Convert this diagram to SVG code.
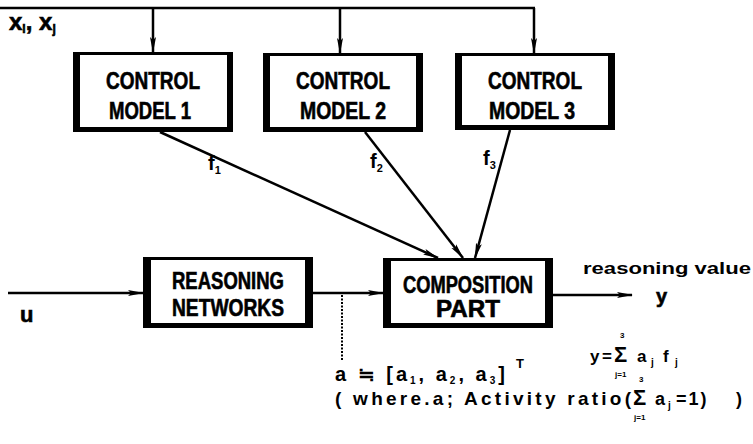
<svg xmlns="http://www.w3.org/2000/svg" width="753" height="444" viewBox="0 0 753 444">
<defs>
<marker id="ah" markerWidth="16" markerHeight="8" refX="15" refY="4" orient="auto" markerUnits="userSpaceOnUse">
<path d="M0,1 L16,4 L0,7 L3,4 Z" fill="#000"/>
</marker>
</defs>
<style>
.t{font-family:"Liberation Sans",Arial,sans-serif;font-weight:bold;fill:#000}
.h{stroke:#000;stroke-width:0.6}
.bl{font-size:23px;text-anchor:middle}
.ln{stroke:#000;stroke-width:2.5;fill:none}
.out{fill:#000}
.in{fill:#fff}
.s{font-size:8px}
</style>
<rect width="753" height="444" fill="#fff"/>
<g id="connectors">
<path class="ln" d="M0,8 H535"/>
<path class="ln" d="M153,8 V52" marker-end="url(#ah)"/>
<path class="ln" d="M340,8 V53" marker-end="url(#ah)"/>
<path class="ln" d="M534,8 V53" marker-end="url(#ah)"/>
<path class="ln" d="M160,132 L438,258" marker-end="url(#ah)"/>
<path class="ln" d="M365,132 L463,258" marker-end="url(#ah)"/>
<path class="ln" d="M510,130 L475,258" marker-end="url(#ah)"/>
<path class="ln" d="M8,293 H143" marker-end="url(#ah)"/>
<path class="ln" d="M312,293 H383" marker-end="url(#ah)"/>
<path class="ln" d="M553,295 H632" marker-end="url(#ah)"/>
<path d="M342,295 V360" stroke="#000" stroke-width="2" stroke-dasharray="2,1.5" fill="none"/>
</g>
<g id="control1">
<rect class="out" x="73" y="52" width="160" height="80"/>
<rect class="in" x="80" y="55" width="147" height="72"/>
<text class="t h bl" x="153" y="89" textLength="94" lengthAdjust="spacingAndGlyphs">CONTROL</text>
<text class="t h bl" x="150" y="119" textLength="82" lengthAdjust="spacingAndGlyphs">MODEL 1</text>
</g>
<g id="control2">
<rect class="out" x="263" y="53" width="160" height="79"/>
<rect class="in" x="270" y="56" width="146" height="71"/>
<text class="t h bl" x="343" y="89" textLength="94" lengthAdjust="spacingAndGlyphs">CONTROL</text>
<text class="t h bl" x="343" y="119" textLength="86" lengthAdjust="spacingAndGlyphs">MODEL 2</text>
</g>
<g id="control3">
<rect class="out" x="455" y="53" width="160" height="77"/>
<rect class="in" x="462" y="56" width="146" height="69"/>
<text class="t h bl" x="535" y="89" textLength="94" lengthAdjust="spacingAndGlyphs">CONTROL</text>
<text class="t h bl" x="532" y="119" textLength="86" lengthAdjust="spacingAndGlyphs">MODEL 3</text>
</g>
<g id="reasoning">
<rect class="out" x="143" y="257" width="170" height="71"/>
<rect class="in" x="151" y="260" width="154" height="63"/>
<text class="t h bl" x="228" y="289" textLength="112" lengthAdjust="spacingAndGlyphs">REASONING</text>
<text class="t h bl" x="228" y="316" textLength="112" lengthAdjust="spacingAndGlyphs">NETWORKS</text>
</g>
<g id="composition">
<rect class="out" x="383" y="258" width="170" height="70"/>
<rect class="in" x="391" y="261" width="154" height="62"/>
<text class="t h bl" x="468" y="293" textLength="130" lengthAdjust="spacingAndGlyphs">COMPOSITION</text>
<text class="t h bl" x="468" y="317" textLength="64" lengthAdjust="spacingAndGlyphs">PART</text>
</g>
<g id="labels">
<text class="t h" x="9" y="30" font-size="24">x<tspan font-size="12" dy="3">i</tspan><tspan dy="-3">, x</tspan><tspan font-size="12" dy="3">j</tspan></text>
<text class="t" x="208" y="170" font-size="20">f<tspan font-size="11" dy="4">1</tspan></text>
<text class="t" x="370" y="168" font-size="20">f<tspan font-size="11" dy="4">2</tspan></text>
<text class="t" x="483" y="165" font-size="20">f<tspan font-size="11" dy="4">3</tspan></text>
<text class="t h" x="20" y="322" font-size="22">u</text>
<text class="t" x="583" y="274" font-size="17" textLength="168" lengthAdjust="spacingAndGlyphs">reasoning value</text>
<text class="t h" x="656" y="303" font-size="20">y</text>
<text class="t" x="590" y="362" font-size="17">y</text>
<text class="t" x="602" y="362" font-size="17">=</text>
<text class="t" x="614" y="362" font-size="22">Σ</text>
<text class="t s" x="620" y="338">3</text>
<text class="t s" x="615" y="377">j=1</text>
<text class="t" x="637" y="362" font-size="17">a</text>
<text class="t" x="651" y="366" font-size="10">j</text>
<text class="t" x="663" y="362" font-size="17">f</text>
<text class="t" x="675" y="366" font-size="10">j</text>
<text class="t" x="335" y="381" font-size="20" letter-spacing="3">a ≒ [a<tspan font-size="10" dy="3">1</tspan><tspan dy="-3">, a</tspan><tspan font-size="10" dy="3">2</tspan><tspan dy="-3">, a</tspan><tspan font-size="10" dy="3">3</tspan><tspan dy="-3">]</tspan></text>
<text class="t" x="516" y="368" font-size="13">T</text>
<text class="t" x="335" y="405" font-size="19" textLength="296" lengthAdjust="spacing">( where.a; Activity ratio(</text>
<text class="t" x="633" y="405" font-size="22">Σ</text>
<text class="t s" x="639" y="382">3</text>
<text class="t s" x="634" y="420">j=1</text>
<text class="t" x="655" y="405" font-size="18">a</text>
<text class="t" x="668" y="409" font-size="10">j</text>
<text class="t" x="676" y="405" font-size="18" letter-spacing="2">=1)</text>
<text class="t" x="736" y="405" font-size="18">)</text>
</g>
</svg>
